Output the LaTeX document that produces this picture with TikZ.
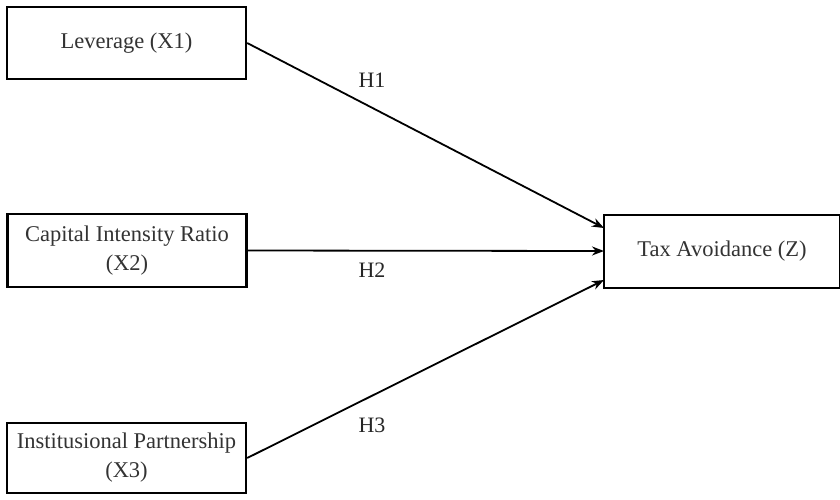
\documentclass[tikz,border=0pt]{standalone}
\usepackage{fontspec}
\setmainfont{Liberation Serif}
\usetikzlibrary{arrows.meta}
\begin{document}
\begin{tikzpicture}[x=1pt,y=-1pt,
  box/.style={draw=black, line width=2.4pt, minimum height=72pt, inner sep=0pt, align=center, font=\fontsize{22.5}{29}\selectfont, text=black!80},
  conn/.style={draw=black, line width=1.8pt, -{Stealth[length=12pt,width=9pt]}},
  hlab/.style={font=\fontsize{22}{26}\selectfont, text=black!85}]
\fill[white] (0,0) rectangle (840,499);
\useasboundingbox (0,0) rectangle (840,499);
\node[box, minimum width=239pt] (x1) at (126.5,43) {Leverage (X1)};
\node[box, minimum width=239pt, minimum height=73pt] (x2) at (127,250.5) {Capital Intensity Ratio\\(X2)};
\node[box, minimum width=239pt, minimum height=70pt] (x3) at (126.5,458) {Institusional Partnership\\(X3)};
\node[box, minimum width=236pt, minimum height=73pt] (z) at (722,251.5) {Tax Avoidance (Z)};
\coordinate (z1) at (604,228);
\coordinate (z2) at (604,251);
\coordinate (z3) at (604,280);
\draw[conn] (x1.east) -- (z1);
\draw[conn] (x2.east) -- (z2);
\draw[conn] (x3.east) -- (z3);
\node[hlab] (h1) at (372,80) {H1};
\node[hlab] (h2) at (372,270) {H2};
\node[hlab] (h3) at (372,425) {H3};
\end{tikzpicture}
\end{document}
